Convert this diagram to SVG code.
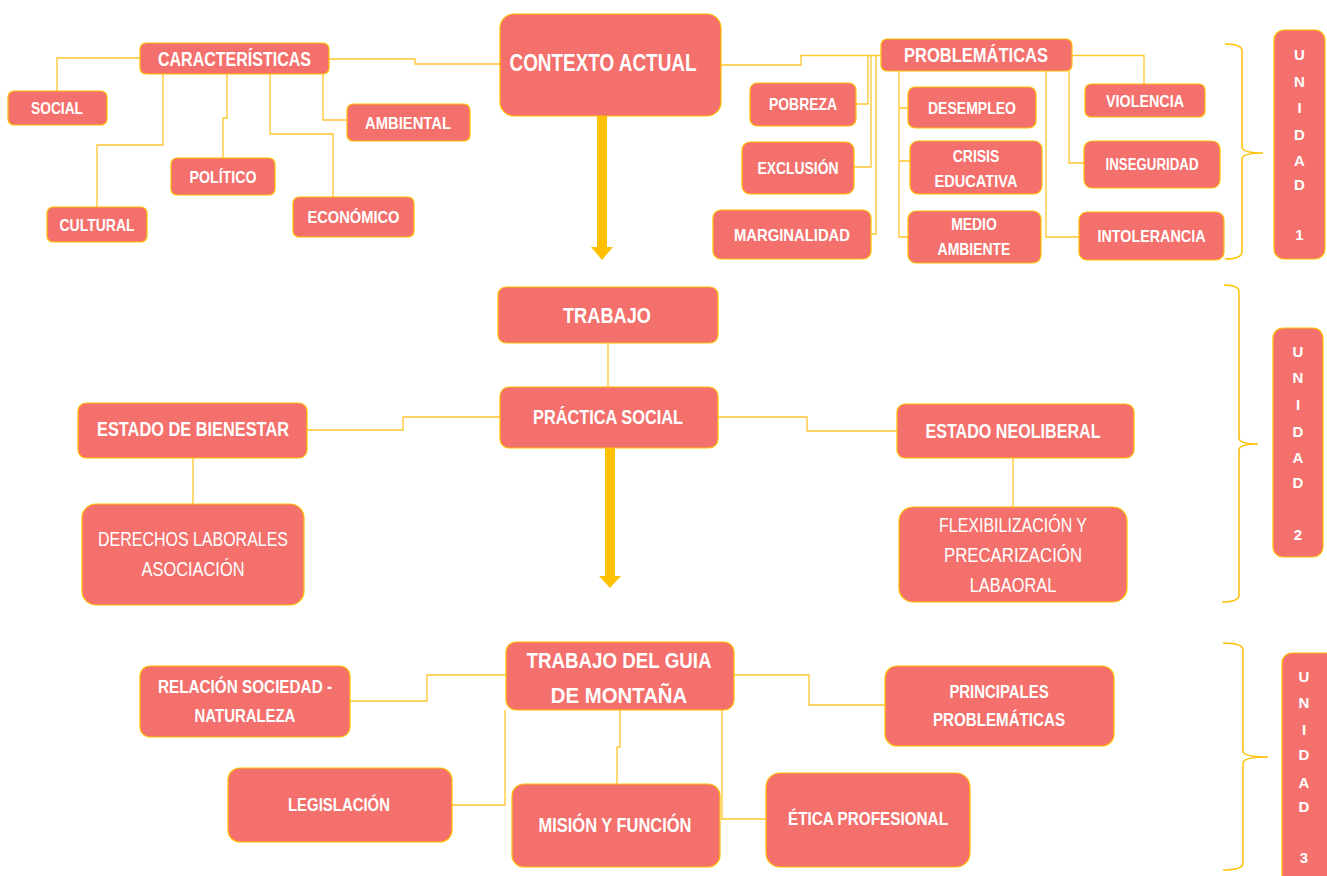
<svg xmlns="http://www.w3.org/2000/svg" width="1327" height="876" viewBox="0 0 1327 876">
<style>
.n rect{fill:#F4706C;stroke:#FFC000;stroke-width:1.2}
text{font-family:"Liberation Sans",Arial,sans-serif;fill:#FFFFFF;text-anchor:middle}
.b{font-weight:bold}
.r{font-weight:normal}
.c path{fill:none;stroke:#FFC52E;stroke-width:1.3}
.br{fill:none;stroke:#FFC000;stroke-width:1.5}
.ar{fill:#FFC000}
.u text{font-weight:bold;font-size:15px}
</style>
<rect width="1327" height="876" fill="#FFFFFF"/>
<g id="connectors" class="c">
<path d="M140,58 H57 V91"/>
<path d="M163,74 V145 H97 V207"/>
<path d="M227,74 V118 H223 V158"/>
<path d="M270,74 V134 H333 V197"/>
<path d="M323,74 V120 H347"/>
<path d="M329,59 H415 V64 H500"/>
<path d="M721,65 H801 V55.5 H881"/>
<path d="M868,55.5 V104 H856"/>
<path d="M871,55.5 V167 H854"/>
<path d="M876,55.5 V234 H871"/>
<path d="M899,71 V237 H908 M899,108 H908 M899,161 H910"/>
<path d="M1072,55.5 H1144 V84"/>
<path d="M1069,71 V163 H1084"/>
<path d="M1046,71 V237 H1079"/>
<path d="M608,343 V387"/>
<path d="M307,430 H403 V417 H500"/>
<path d="M193,458 V504"/>
<path d="M718,417 H807 V431 H897"/>
<path d="M1013,458 V507"/>
<path d="M350,701 H427 V675 H506"/>
<path d="M452,805 H505 V710"/>
<path d="M620,710 V747 H617 V784"/>
<path d="M734,675 H809 V705 H885"/>
<path d="M722,710 V819 H766"/>
</g>
<g id="arrows">
<rect class="ar" x="597" y="116" width="10" height="131"/>
<polygon class="ar" points="591,247 613,247 602,260"/>
<rect class="ar" x="605" y="448" width="10" height="128"/>
<polygon class="ar" points="599,576 621,576 610,588"/>
</g>
<g id="brackets">
<path class="br" d="M1225,44 Q1242,44 1242,51 V147 Q1242,153 1263,153 Q1242,153 1242,159 V252 Q1242,259 1225,259"/>
<path class="br" d="M1224,285 Q1239,285 1239,292 V438 Q1239,444 1258,444 Q1239,444 1239,450 V595 Q1239,602 1222,602"/>
<path class="br" d="M1223,643 Q1243,643 1243,650 V751 Q1243,757 1268,757 Q1243,757 1243,763 V863 Q1243,870 1223,870"/>
</g>
<g id="ctx" class="n"><rect x="500" y="14" width="221" height="102" rx="14"/><text class="b" x="603" y="71" font-size="23" textLength="187" lengthAdjust="spacingAndGlyphs">CONTEXTO ACTUAL</text></g>
<g id="carac" class="n"><rect x="140" y="43" width="189" height="31" rx="6"/><text class="b" x="234.5" y="66" font-size="19.5" textLength="153" lengthAdjust="spacingAndGlyphs">CARACTERÍSTICAS</text></g>
<g id="social" class="n"><rect x="8" y="91" width="99" height="34" rx="6"/><text class="b" x="57" y="114" font-size="17" textLength="52" lengthAdjust="spacingAndGlyphs">SOCIAL</text></g>
<g id="ambiental" class="n"><rect x="347" y="104" width="123" height="37" rx="6"/><text class="b" x="408" y="128.5" font-size="17" textLength="86" lengthAdjust="spacingAndGlyphs">AMBIENTAL</text></g>
<g id="politico" class="n"><rect x="171" y="158" width="104" height="37" rx="6"/><text class="b" x="223" y="182.5" font-size="17" textLength="67" lengthAdjust="spacingAndGlyphs">POLÍTICO</text></g>
<g id="cultural" class="n"><rect x="47" y="207" width="100" height="35" rx="6"/><text class="b" x="97" y="230.5" font-size="17" textLength="75" lengthAdjust="spacingAndGlyphs">CULTURAL</text></g>
<g id="economico" class="n"><rect x="293" y="197" width="121" height="40" rx="6"/><text class="b" x="353.5" y="223" font-size="17" textLength="92" lengthAdjust="spacingAndGlyphs">ECONÓMICO</text></g>
<g id="problematicas" class="n"><rect x="881" y="39" width="191" height="32" rx="6"/><text class="b" x="976" y="62" font-size="20" textLength="144" lengthAdjust="spacingAndGlyphs">PROBLEMÁTICAS</text></g>
<g id="pobreza" class="n"><rect x="750" y="83" width="106" height="43" rx="7"/><text class="b" x="803" y="110" font-size="17" textLength="68" lengthAdjust="spacingAndGlyphs">POBREZA</text></g>
<g id="exclusion" class="n"><rect x="742" y="142" width="112" height="52" rx="8"/><text class="b" x="798" y="174" font-size="17" textLength="81" lengthAdjust="spacingAndGlyphs">EXCLUSIÓN</text></g>
<g id="marginalidad" class="n"><rect x="713" y="210" width="158" height="49" rx="8"/><text class="b" x="792" y="240.5" font-size="17" textLength="116" lengthAdjust="spacingAndGlyphs">MARGINALIDAD</text></g>
<g id="desempleo" class="n"><rect x="908" y="87" width="128" height="41" rx="7"/><text class="b" x="972" y="113.5" font-size="17" textLength="88" lengthAdjust="spacingAndGlyphs">DESEMPLEO</text></g>
<g id="crisis" class="n"><rect x="910" y="141" width="132" height="53" rx="8"/><text class="b" x="976" y="162" font-size="17" textLength="46.5" lengthAdjust="spacingAndGlyphs">CRISIS</text><text class="b" x="976" y="187" font-size="17" textLength="83" lengthAdjust="spacingAndGlyphs">EDUCATIVA</text></g>
<g id="medio" class="n"><rect x="908" y="211" width="133" height="52" rx="8"/><text class="b" x="974" y="230" font-size="17" textLength="45.7" lengthAdjust="spacingAndGlyphs">MEDIO</text><text class="b" x="974" y="255" font-size="17" textLength="72.8" lengthAdjust="spacingAndGlyphs">AMBIENTE</text></g>
<g id="violencia" class="n"><rect x="1085" y="84" width="120" height="33" rx="6"/><text class="b" x="1145" y="106.5" font-size="17" textLength="78" lengthAdjust="spacingAndGlyphs">VIOLENCIA</text></g>
<g id="inseguridad" class="n"><rect x="1084" y="141" width="136" height="47" rx="8"/><text class="b" x="1152" y="170" font-size="17" textLength="93" lengthAdjust="spacingAndGlyphs">INSEGURIDAD</text></g>
<g id="intolerancia" class="n"><rect x="1079" y="212" width="145" height="48" rx="8"/><text class="b" x="1151.5" y="242" font-size="17" textLength="108" lengthAdjust="spacingAndGlyphs">INTOLERANCIA</text></g>
<g id="unidad1" class="n u"><rect x="1274" y="30" width="51" height="229" rx="10"/>
<text x="1299.5" y="60">U</text><text x="1299.5" y="87">N</text><text x="1299.5" y="113">I</text><text x="1299.5" y="140">D</text><text x="1299.5" y="166">A</text><text x="1299.5" y="190">D</text><text x="1299.5" y="240">1</text></g>
<g id="trabajo" class="n"><rect x="498" y="287" width="220" height="56" rx="8"/><text class="b" x="607" y="322.5" font-size="22" textLength="88" lengthAdjust="spacingAndGlyphs">TRABAJO</text></g>
<g id="practica" class="n"><rect x="500" y="387" width="218" height="61" rx="9"/><text class="b" x="608" y="424" font-size="20" textLength="150" lengthAdjust="spacingAndGlyphs">PRÁCTICA SOCIAL</text></g>
<g id="bienestar" class="n"><rect x="78" y="403" width="229" height="55" rx="8"/><text class="b" x="193" y="436" font-size="20" textLength="192" lengthAdjust="spacingAndGlyphs">ESTADO DE BIENESTAR</text></g>
<g id="derechos" class="n"><rect x="82" y="504" width="222" height="101" rx="14"/><text class="r" x="193" y="546" font-size="20" textLength="190" lengthAdjust="spacingAndGlyphs">DERECHOS LABORALES</text><text class="r" x="193" y="576" font-size="20" textLength="103" lengthAdjust="spacingAndGlyphs">ASOCIACIÓN</text></g>
<g id="neoliberal" class="n"><rect x="897" y="404" width="237" height="54" rx="8"/><text class="b" x="1013" y="438" font-size="19.5" textLength="175" lengthAdjust="spacingAndGlyphs">ESTADO NEOLIBERAL</text></g>
<g id="flex" class="n"><rect x="899" y="507" width="228" height="95" rx="14"/><text class="r" x="1013" y="532" font-size="20" textLength="148" lengthAdjust="spacingAndGlyphs">FLEXIBILIZACIÓN Y</text><text class="r" x="1013" y="562" font-size="20" textLength="138" lengthAdjust="spacingAndGlyphs">PRECARIZACIÓN</text><text class="r" x="1013" y="592" font-size="20" textLength="86.6" lengthAdjust="spacingAndGlyphs">LABAORAL</text></g>
<g id="unidad2" class="n u"><rect x="1273" y="328" width="50" height="229" rx="10"/>
<text x="1298" y="357">U</text><text x="1298" y="383">N</text><text x="1298" y="410">I</text><text x="1298" y="437">D</text><text x="1298" y="463">A</text><text x="1298" y="488">D</text><text x="1298" y="540">2</text></g>
<g id="guia" class="n"><rect x="506" y="642" width="228" height="68" rx="10"/><text class="b" x="619" y="668" font-size="22.5" textLength="185" lengthAdjust="spacingAndGlyphs">TRABAJO DEL GUIA</text><text class="b" x="619" y="703" font-size="22.5" textLength="136.5" lengthAdjust="spacingAndGlyphs">DE MONTAÑA</text></g>
<g id="relacion" class="n"><rect x="140" y="666" width="210" height="71" rx="10"/><text class="b" x="245" y="693" font-size="18" textLength="174" lengthAdjust="spacingAndGlyphs">RELACIÓN SOCIEDAD -</text><text class="b" x="245" y="722" font-size="18" textLength="100.8" lengthAdjust="spacingAndGlyphs">NATURALEZA</text></g>
<g id="legislacion" class="n"><rect x="228" y="768" width="224" height="74" rx="12"/><text class="b" x="339" y="811" font-size="18" textLength="102" lengthAdjust="spacingAndGlyphs">LEGISLACIÓN</text></g>
<g id="mision" class="n"><rect x="512" y="784" width="208" height="83" rx="12"/><text class="b" x="615" y="832" font-size="20" textLength="153" lengthAdjust="spacingAndGlyphs">MISIÓN Y FUNCIÓN</text></g>
<g id="principales" class="n"><rect x="885" y="666" width="229" height="80" rx="12"/><text class="b" x="999" y="698" font-size="18" textLength="99.2" lengthAdjust="spacingAndGlyphs">PRINCIPALES</text><text class="b" x="999" y="726" font-size="18" textLength="132" lengthAdjust="spacingAndGlyphs">PROBLEMÁTICAS</text></g>
<g id="etica" class="n"><rect x="766" y="773" width="204" height="94" rx="14"/><text class="b" x="868" y="824.5" font-size="18.5" textLength="160" lengthAdjust="spacingAndGlyphs">ÉTICA PROFESIONAL</text></g>
<g id="unidad3" class="n u"><rect x="1282" y="653" width="60" height="240" rx="10"/>
<text x="1304" y="682">U</text><text x="1304" y="708">N</text><text x="1304" y="735">I</text><text x="1304" y="760">D</text><text x="1304" y="788">A</text><text x="1304" y="812">D</text><text x="1304" y="863">3</text></g>
</svg>
